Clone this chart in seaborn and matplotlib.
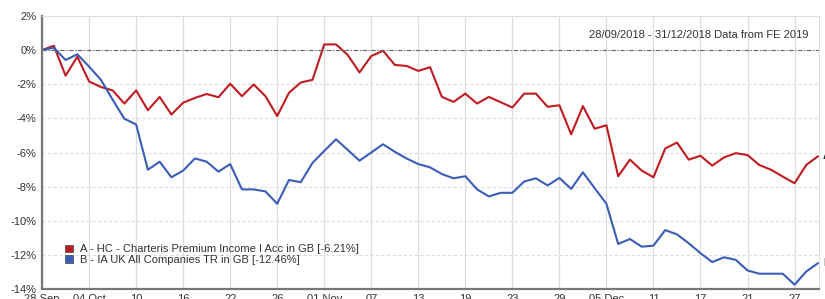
import seaborn as sns
import pandas as pd
import matplotlib.pyplot as plt
import numpy as np
from matplotlib.patches import Patch

# cumulative performance (%) per business day, 28 Sep 2018 - 31 Dec 2018
fund_a = [0, 0.25, -1.5, -0.39, -1.84, -2.16, -2.36, -3.13, -2.36, -3.52,
          -2.74, -3.77, -3.08, -2.8, -2.57, -2.76, -1.97, -2.7, -2.01, -2.7,
          -3.86, -2.5, -1.9, -1.74, 0.33, 0.33, -0.29, -1.31, -0.35, -0.04,
          -0.87, -0.93, -1.22, -1.0, -2.74, -3.03, -2.55, -3.13, -2.74, -3.05,
          -3.36, -2.55, -2.55, -3.32, -3.23, -4.93, -3.28, -4.6, -4.4, -7.38,
          -6.41, -7.05, -7.44, -5.76, -5.41, -6.41, -6.18, -6.76, -6.28, -6.03,
          -6.14, -6.72, -7.0, -7.4, -7.79, -6.72, -6.21]
sector_b = [0, 0.13, -0.58, -0.25, -0.97, -1.74, -2.9, -4.02, -4.35, -7.0,
            -6.53, -7.44, -7.05, -6.34, -6.53, -7.11, -6.67, -8.15, -8.15, -8.27,
            -8.99, -7.6, -7.73, -6.6, -5.9, -5.22, -5.84, -6.47, -5.99, -5.51,
            -5.95, -6.34, -6.67, -6.86, -7.25, -7.5, -7.38, -8.15, -8.56, -8.35,
            -8.35, -7.69, -7.5, -7.92, -7.48, -8.12, -7.15, -8.08, -8.99, -11.34,
            -11.05, -11.5, -11.44, -10.53, -10.78, -11.3, -11.88, -12.4, -12.12, -12.27,
            -12.89, -13.08, -13.08, -13.08, -13.72, -12.95, -12.46]
series_names = ["A - HC - Charteris Premium Income I Acc in GB [-6.21%]",
                "B - IA UK All Companies TR in GB [-12.46%]"]
tick_labels = ["28 Sep", "04 Oct", "10", "16", "22", "26", "01 Nov", "07", "13",
               "19", "23", "29", "05 Dec", "11", "17", "21", "27"]
y_ticks = [2, 0, -2, -4, -6, -8, -10, -12, -14]

day = np.arange(len(fund_a))
df = pd.DataFrame({
    "day": np.concatenate([day, day]),
    "perf": fund_a + sector_b,
    "series": [series_names[0]] * len(fund_a) + [series_names[1]] * len(sector_b),
})

sns.set_style("white")
plt.rcParams["font.family"] = ["Liberation Sans", "DejaVu Sans"]

red = "#c01b20"
blue = "#3a5db8"
fig = plt.figure(figsize=(8.25, 2.99), dpi=100)
ax = fig.add_axes([0.051, 0.032, 0.942, 0.915])

sns.lineplot(data=df, x="day", y="perf", hue="series", palette=[red, blue],
             linewidth=1.5, legend=False, ax=ax)

ax.set_xlim(0, 66.1)
ax.set_ylim(-14, 2)
ax.set_xticks(np.arange(0, 4 * len(tick_labels), 4))
ax.set_xticklabels(tick_labels)
ax.set_yticks(y_ticks)
ax.set_yticklabels([f"{v}%" for v in y_ticks])
ax.set_xlabel("")
ax.set_ylabel("")
ax.tick_params(axis="both", length=0, labelsize=8, colors="#333333")
ax.tick_params(axis="x", pad=3)
ax.tick_params(axis="y", pad=4)

ax.grid(axis="x", color="#dddddd", linewidth=0.9)
ax.grid(axis="y", color="#dddddd", linewidth=0.8, linestyle=(0, (3, 2)))
ax.axhline(0, color="#666666", linewidth=0.8, linestyle=(0, (4, 1.5, 1, 1.5)))

for side in ["top", "right"]:
    ax.spines[side].set_color("#dddddd")
    ax.spines[side].set_linewidth(0.8)
for side in ["left", "bottom"]:
    ax.spines[side].set_color("#777777")
    ax.spines[side].set_linewidth(1.6)

handles = [Patch(facecolor=red, edgecolor="#444444", linewidth=0.5),
           Patch(facecolor=blue, edgecolor="#444444", linewidth=0.5)]
ax.legend(handles, series_names, loc="lower left", bbox_to_anchor=(0.017, 0.053),
          frameon=False, fontsize=8, handlelength=0.7, handleheight=0.7,
          handletextpad=0.6, labelspacing=0.05, labelcolor="#333333")

ax.text(0.986, 0.93, "28/09/2018 - 31/12/2018 Data from FE 2019",
        transform=ax.transAxes, ha="right", va="center", fontsize=8, color="#333333")
ax.text(66.4, fund_a[-1], "A", fontsize=8, fontweight="bold", color="#222222",
        va="center", ha="left", clip_on=False)
ax.text(66.4, sector_b[-1], "B", fontsize=8, fontweight="bold", color="#222222",
        va="center", ha="left", clip_on=False)

fig.savefig("out.png", dpi=100)
